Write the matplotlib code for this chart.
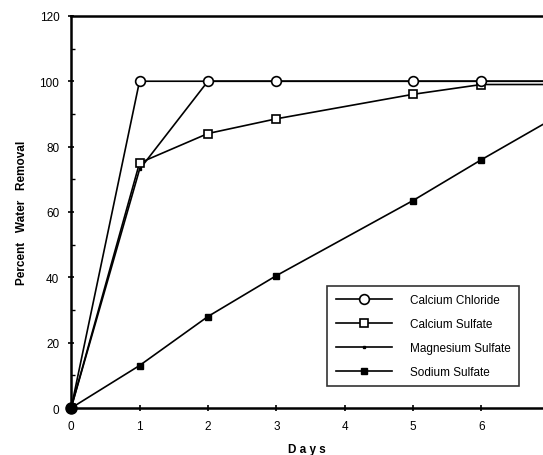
import matplotlib.pyplot as plt

plt.rcParams['font.family'] = ['Liberation Sans', 'DejaVu Sans']

# 数据
days = [0, 1, 2, 3, 5, 6, 7]
calcium_chloride = [0, 100, 100, 100, 100, 100, 100]
calcium_sulfate = [0, 75, 84, 88.5, 96, 99, 99]
magnesium_sulfate = [0, 73, 100, 100, 100, 100, 100]
sodium_sulfate = [0, 13, 28, 40.5, 63.5, 76, 88]

fig = plt.figure(figsize=(5.43, 4.56), dpi=100)
ax = fig.add_axes([0.131, 0.103, 0.869, 0.860])

ax.plot(days, sodium_sulfate, color='black', lw=1.2, marker='s', ms=4.5,
        mfc='black', label='Sodium Sulfate', zorder=3)
ax.plot(days, magnesium_sulfate, color='black', lw=1.2, marker='s', ms=2,
        mfc='black', label='Magnesium Sulfate', zorder=3)
ax.plot(days, calcium_sulfate, color='black', lw=1.2, marker='s', ms=5.5,
        mfc='white', mew=1.2, label='Calcium Sulfate', zorder=4)
ax.plot(days, calcium_chloride, color='black', lw=1.2, marker='o', ms=7,
        mfc='white', mew=1.2, label='Calcium Chloride', zorder=5)
# 原点处的实心圆
ax.plot(days[:1], [0], color='black', marker='o', ms=8, zorder=6, clip_on=False)

ax.set_xlim(0, 6.9)
ax.set_ylim(0, 120)
ax.set_xticks(range(0, 7))
ax.set_yticks(range(0, 121, 20))
ax.set_yticks(range(10, 120, 20), minor=True)
ax.tick_params(axis='both', which='major', direction='inout', length=5, width=1.2,
               labelsize=8.5)
ax.tick_params(axis='x', which='major', pad=6)
ax.tick_params(axis='y', which='major', pad=6)
ax.tick_params(axis='y', which='minor', direction='in', length=3, width=1)

for s in ['left', 'bottom', 'top']:
    ax.spines[s].set_linewidth(1.8)
ax.spines['right'].set_visible(False)

ax.set_xlabel('D a y s', fontsize=8.5, fontweight='bold', labelpad=8)
ax.set_ylabel('Percent   Water   Removal', fontsize=8.5, fontweight='bold', labelpad=8)

handles, labels = ax.get_legend_handles_labels()
order = [3, 2, 1, 0]
leg = ax.legend([handles[i] for i in order], [labels[i] for i in order],
                loc='lower right', bbox_to_anchor=(0.949, 0.056), fontsize=8.5,
                frameon=True, fancybox=False, edgecolor='black', handlelength=4.8,
                borderpad=0.7, labelspacing=1.0, handletextpad=1.5, borderaxespad=0)
leg.get_frame().set_linewidth(1.2)

plt.savefig('out.png', dpi=100)
